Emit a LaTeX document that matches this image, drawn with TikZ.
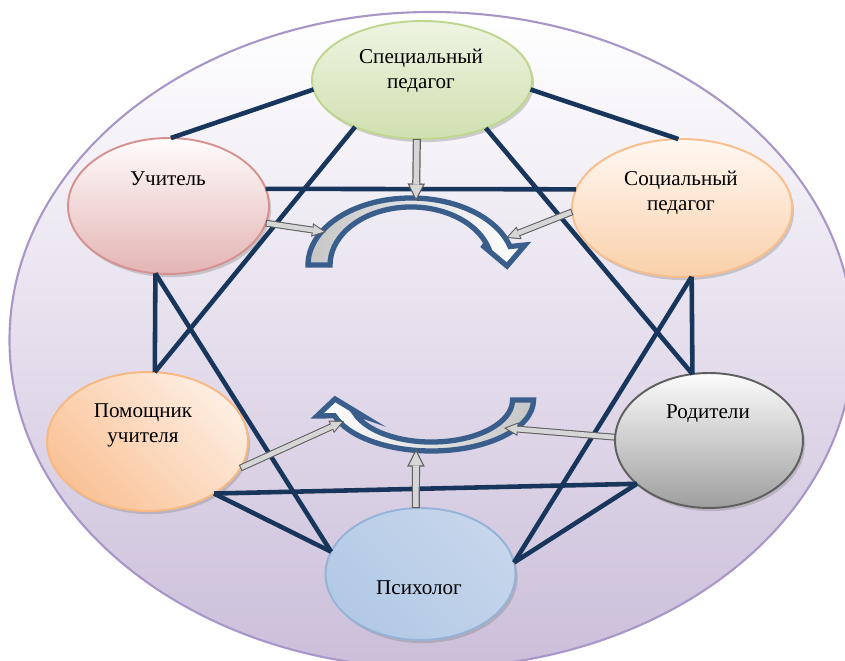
\documentclass[tikz,border=0pt]{standalone}
\usepackage{fontspec}
\setmainfont{Liberation Serif}
\usetikzlibrary{shapes.geometric,shadows,arrows.meta}

\definecolor{navy}{RGB}{24,54,92}
\definecolor{ringblue}{RGB}{58,94,140}
\definecolor{bgedge}{RGB}{168,150,200}
\definecolor{bgbot}{RGB}{203,190,218}
\definecolor{arrE}{RGB}{95,95,95}
\definecolor{arrF}{RGB}{214,214,214}
\definecolor{spA}{RGB}{238,244,226}
\definecolor{spB}{RGB}{208,224,176}
\definecolor{spE}{RGB}{190,214,142}
\definecolor{uchA}{RGB}{255,252,252}
\definecolor{uchB}{RGB}{228,180,180}
\definecolor{uchE}{RGB}{214,146,144}
\definecolor{socA}{RGB}{255,248,242}
\definecolor{socB}{RGB}{250,208,170}
\definecolor{socE}{RGB}{250,190,140}
\definecolor{pomA}{RGB}{253,238,226}
\definecolor{pomB}{RGB}{250,194,150}
\definecolor{pomE}{RGB}{248,184,130}
\definecolor{rodA}{RGB}{252,252,252}
\definecolor{rodB}{RGB}{158,158,158}
\definecolor{rodE}{RGB}{95,95,95}
\definecolor{psyA}{RGB}{228,236,246}
\definecolor{psyB}{RGB}{178,201,229}
\definecolor{psyC}{RGB}{198,214,235}
\definecolor{psyE}{RGB}{149,179,215}

\begin{document}
\begin{tikzpicture}[x=0.02cm, y=0.02cm,
    role/.style={ellipse, line width=1.1pt, inner sep=0pt, outer sep=0pt,
      drop shadow={shadow xshift=1.2pt, shadow yshift=-1.8pt, opacity=0.35}},
    lbl/.style={font=\fontsize{12}{14.2}\selectfont, align=center, inner sep=0pt},
    link/.style={draw=navy, line width=2.6pt},
    ringarc/.style={draw=ringblue, line width=3pt, line join=miter},
    garrow/.style={draw=arrE, line width=4.6pt, -{Triangle[length=10pt, width=10pt, line width=0pt]},
      postaction={draw=arrF, line width=3.2pt, shorten <=0.7pt, shorten >=1.57pt,
        -{Triangle[length=7.7pt, width=7.7pt, line width=0pt]}}},
    garrowS/.style={draw=arrE, line width=3.9pt, -{Triangle[length=8pt, width=7.8pt, line width=0pt]},
      postaction={draw=arrF, line width=2.7pt, shorten <=0.6pt, shorten >=1.4pt,
        -{Triangle[length=6pt, width=5.9pt, line width=0pt]}}}]
  \useasboundingbox (0,0) rectangle (845,-661);
  \clip (0,0) rectangle (845,-661);

  % Background
  \draw[draw=bgedge, line width=1.2pt, top color=white, bottom color=bgbot]
    (431.5,-340) ellipse [x radius=422, y radius=328];

  % Roles
  \node[role, draw=spE, top color=spA, bottom color=spB,
    minimum width=4.4cm, minimum height=2.36cm] (sp) at (422,-80) {};
  \node[role, draw=uchE, top color=uchA, bottom color=uchB,
    minimum width=4.02cm, minimum height=2.72cm] (uch) at (168.5,-206) {};
  \node[role, draw=socE, top color=socA, bottom color=socB,
    minimum width=4.4cm, minimum height=2.76cm] (soc) at (682,-208) {};
  \node[role, draw=pomE, top color=pomA, bottom color=pomB, shading angle=-45,
    minimum width=4.02cm, minimum height=2.78cm] (pom) at (147.5,-441.5) {};
  \node[role, draw=rodE, top color=rodA, bottom color=rodB,
    minimum width=3.76cm, minimum height=2.7cm] (rod) at (709,-440.5) {};
  \node[role, draw=psyE, top color=psyC, middle color=psyA, bottom color=psyB, shading angle=-45,
    minimum width=3.8cm, minimum height=2.64cm] (psy) at (420.5,-574) {};

  % Links
  \draw[link] (uch.88) -- (sp.185);
  \draw[link] (sp.355) -- (soc.93);
  \draw[link] (uch.10) -- (soc.170);
  \draw[link] (sp.215) -- (pom.84);
  \draw[link] (sp.323) -- (rod.104);
  \draw[link] (uch.259) -- (pom.84);
  \draw[link] (uch.259) -- (psy.166);
  \draw[link] (soc.278) -- (rod.104);
  \draw[link] (soc.278) -- (psy.7);
  \draw[link] (pom.322) -- (rod.211);
  \draw[link] (pom.322) -- (psy.166);
  \draw[link] (rod.211) -- (psy.7);

  % Circular arrows
  \draw[ringarc, left color=gray!45, right color=white]
    (308,-265) arc[start angle=180, end angle=16, x radius=103, y radius=67]
    -- (525,-245) -- (507,-266) -- (482,-245)
    -- (488.9,-249) arc[start angle=16, end angle=180, x radius=81, y radius=58] -- cycle;
  \draw[ringarc, left color=white, right color=gray!45]
    (533.5,-400) arc[start angle=0, end angle=-162, x radius=102, y radius=51]
    -- (317,-416) -- (335,-399) -- (363,-416)
    -- (354.5,-413) arc[start angle=-162, end angle=0, x radius=81, y radius=42] -- cycle;

  \coordinate (tTop) at (416,-201);
  \coordinate (tL) at (326,-232);
  \coordinate (tR) at (506,-238);
  \coordinate (bBot) at (416,-449);
  \coordinate (bL) at (344,-421);
  \coordinate (bR) at (504,-428);

  % Gray arrows
  \draw[garrow] (sp.265) -- (tTop);
  \draw[garrowS] (uch.350) -- (tL);
  \draw[garrowS] (soc.182) -- (tR);
  \draw[garrow] (psy.94) -- (bBot);
  \draw[garrowS] (pom.344) -- (bL);
  \draw[garrowS] (rod.178) -- (bR);

  % Labels
  \node[lbl] (tSp) at (421,-71) {Специальный\\педагог};
  \node[lbl] (tUch) at (168,-179) {Учитель};
  \node[lbl] (tSoc) at (681,-193) {Социальный\\педагог};
  \node[lbl] (tPom) at (143,-425) {Помощник\\учителя};
  \node[lbl] (tRod) at (708,-414) {Родители};
  \node[lbl] (tPsy) at (419,-588) {Психолог};
\end{tikzpicture}
\end{document}
